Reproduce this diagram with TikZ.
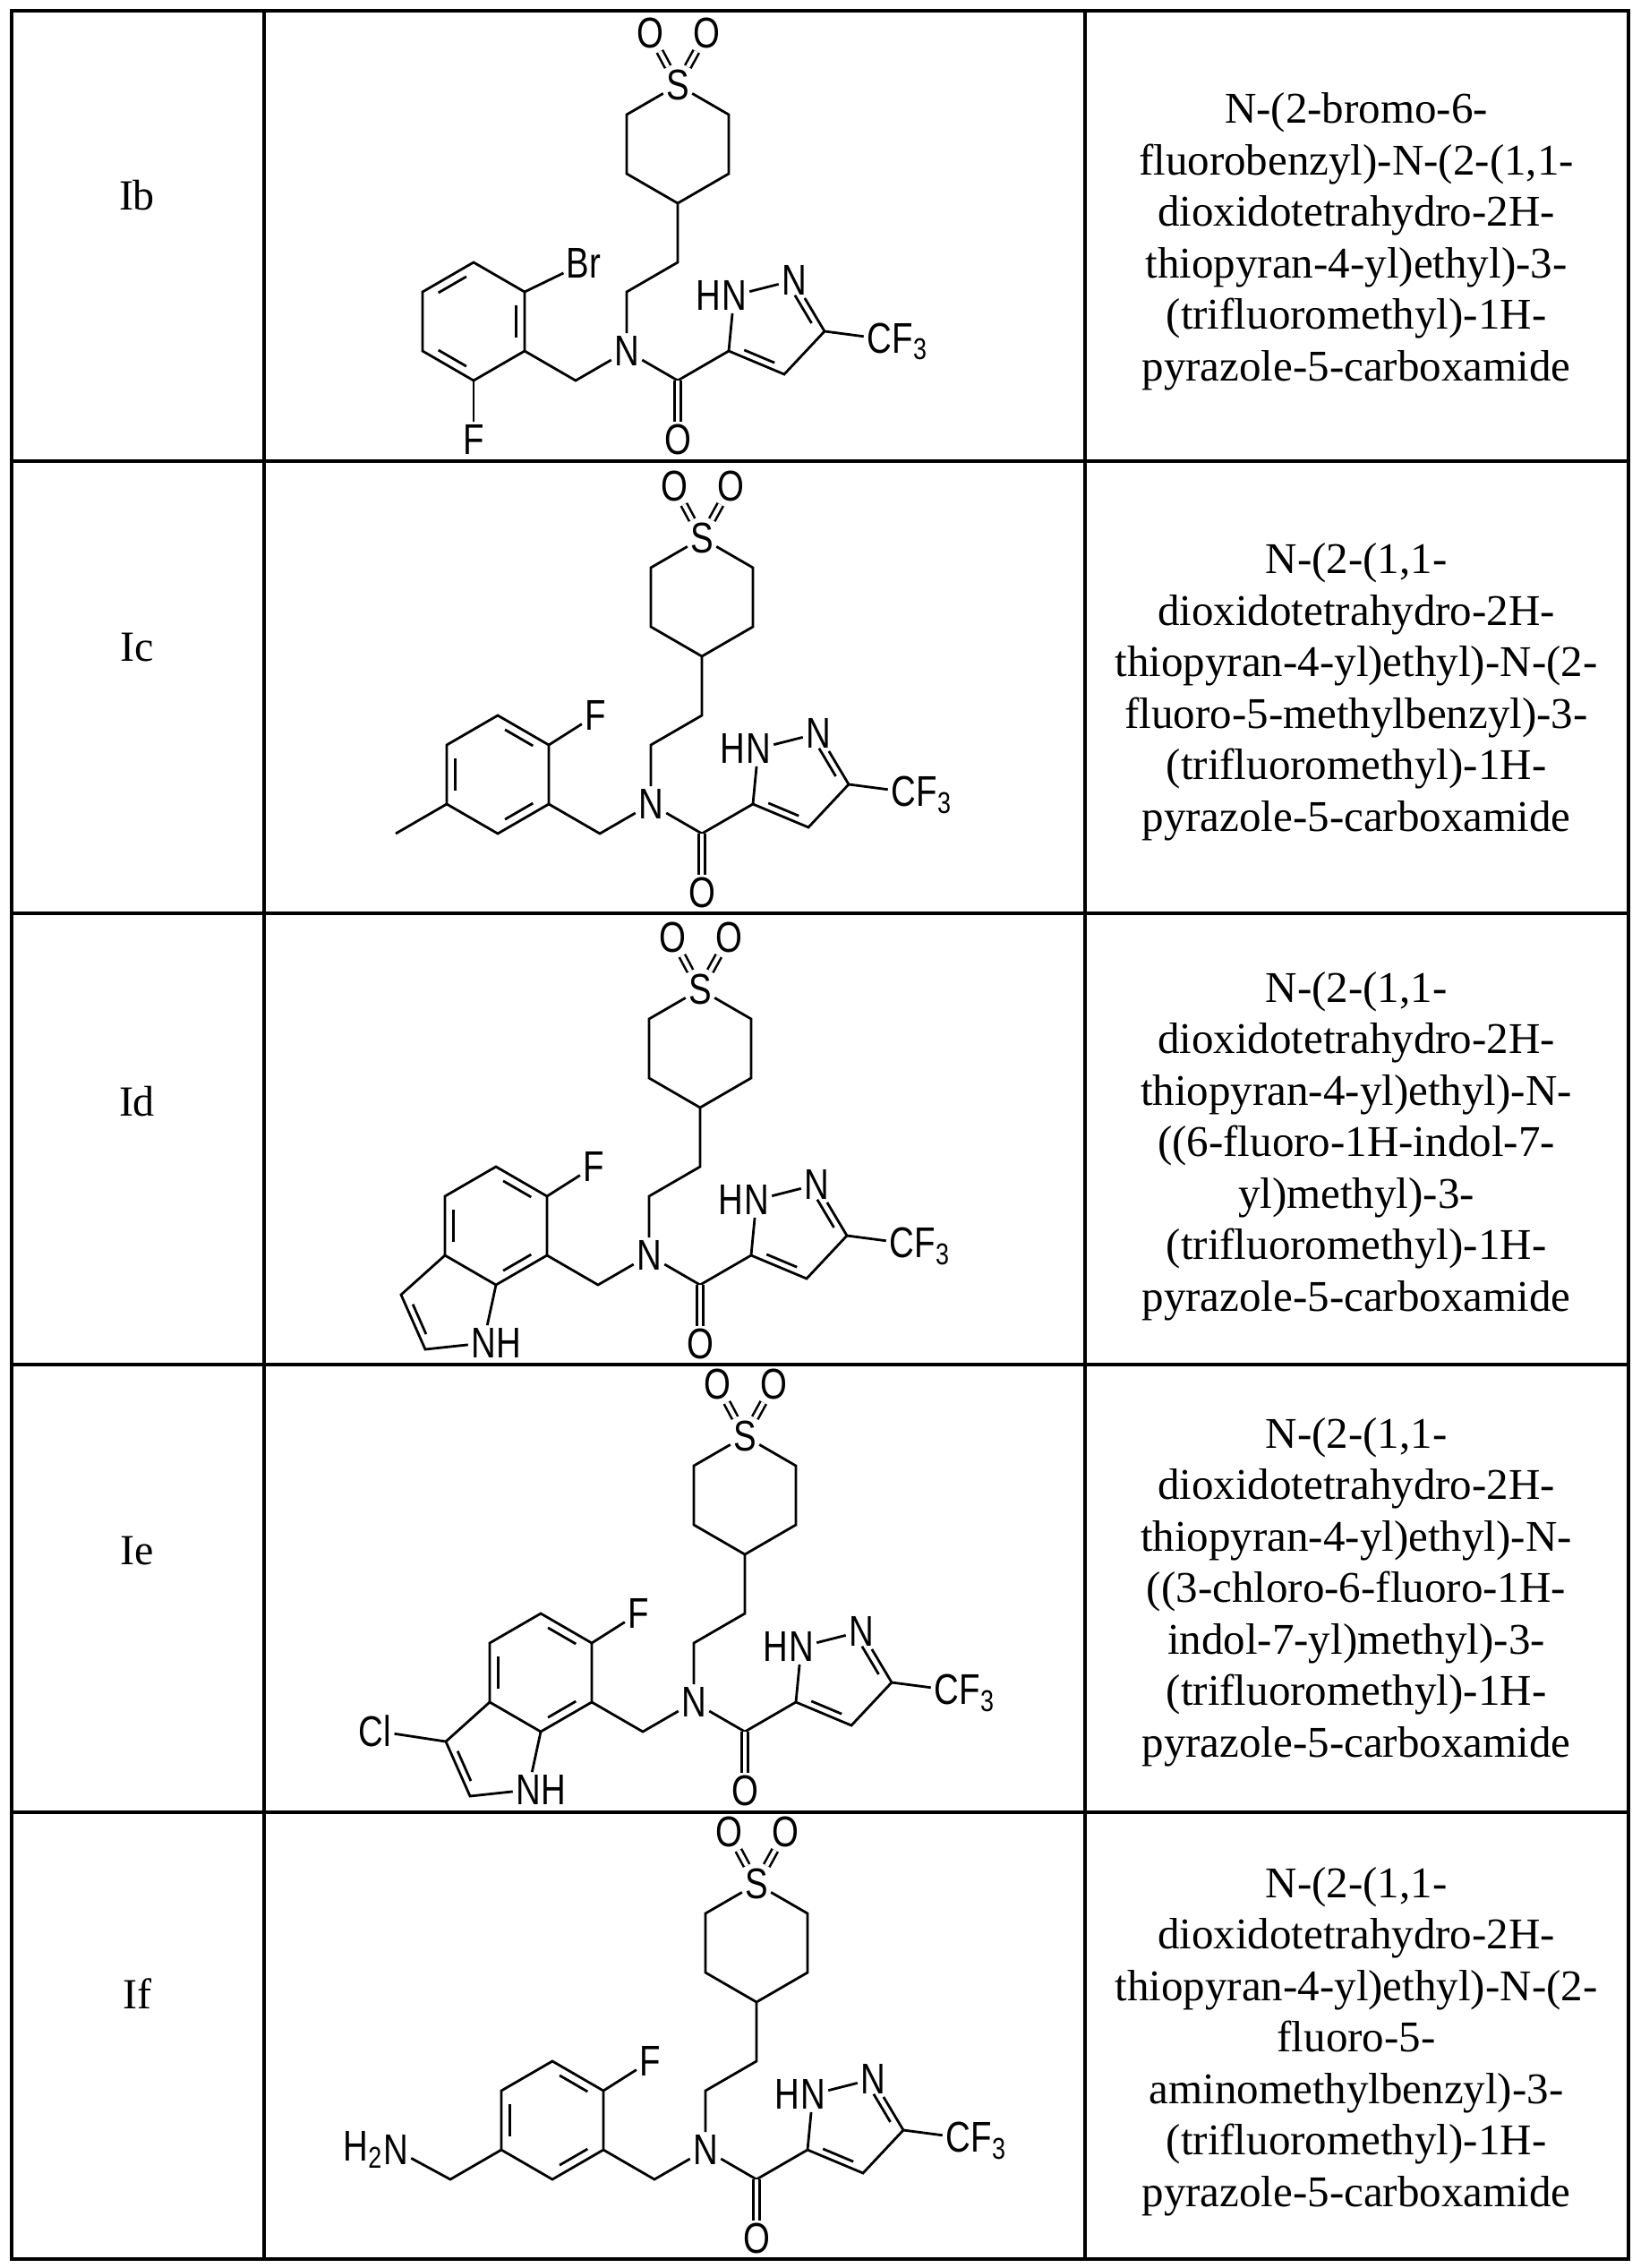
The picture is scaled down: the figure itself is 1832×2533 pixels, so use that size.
\documentclass[tikz,border=0pt]{standalone}
\usepackage{fontspec}
\setmainfont{Liberation Serif}
\newfontfamily\atomfont[FakeStretch=0.8]{Liberation Sans}
\usetikzlibrary{calc}
\tikzset{
  atom/.style={inner sep=1.5pt,font=\atomfont\fontsize{24}{26}\selectfont},
  bond/.style={line width=1.4pt},
  dbond/.style={double,double distance=2.2pt,line width=1.3pt},
  grid/.style={line width=1.6pt},
  cname/.style={align=center,font=\fontsize{24.5}{28.75}\selectfont},
  rlabel/.style={font=\fontsize{24}{26}\selectfont}
}
\newcommand\innerbond[3]{\draw[bond] ($($(#1)!.17!(#2)$)!.17!(#3)$) -- ($($(#2)!.17!(#1)$)!.17!(#3)$);}
% common core: #1 prefix, #2,#3 position of amide N
\newcommand\drawcore[3]{%
\begin{scope}[shift={(#2,#3)}]
\node[atom] (#1N) at (0,0) {N};
\coordinate (#1a) at (0,-66);
\coordinate (#1b) at (57,-99);
\coordinate (#1r1) at (57,-165);
\coordinate (#1r2) at (0,-198);
\coordinate (#1r3) at (0,-264);
\node[atom] (#1S) at (57,-297) {S};
\coordinate (#1r5) at (114,-264);
\coordinate (#1r6) at (114,-198);
\node[atom] (#1O1) at (26,-355) {O};
\node[atom] (#1O2) at (89,-355) {O};
\coordinate (#1m) at (-57,33);
\coordinate (#1A1) at (-114,0);
\coordinate (#1c) at (57,33);
\node[atom] (#1O3) at (57,99) {O};
\coordinate (#1p5) at (114,0);
\node[atom] (#1N1) at (120,-62) {N};
\node[atom,anchor=east,inner sep=0pt] (#1H1) at ([xshift=1.5pt]#1N1.west) {H};
\node[atom] (#1N2) at (187,-79) {N};
\coordinate (#1p3) at (221,-22);
\coordinate (#1p4) at (176,26);
\coordinate (#1pc) at (164,-28);
\node[atom] (#1CF) at (282,-14) {C};
\node[atom,anchor=base west,inner sep=0pt] (#1F3) at ([xshift=-1.5pt]#1CF.base east) {F\textsubscript{3}};
\coordinate (#1A2) at (-114,-66);
\coordinate (#1A3) at (-171,-99);
\coordinate (#1A4) at (-228,-66);
\coordinate (#1A5) at (-228,0);
\coordinate (#1A6) at (-171,33);
\coordinate (#1Ac) at (-171,-33);
\end{scope}
\draw[bond] (#1N) -- (#1a) -- (#1b) -- (#1r1) -- (#1r2) -- (#1r3) -- (#1S) -- (#1r5) -- (#1r6) -- (#1r1);
\draw[dbond] (#1S) -- (#1O1);
\draw[dbond] (#1S) -- (#1O2);
\draw[bond] (#1N) -- (#1m) -- (#1A1);
\draw[bond] (#1N) -- (#1c) -- (#1p5);
\draw[dbond] (#1c) -- (#1O3);
\draw[bond] (#1p5) -- (#1N1);
\draw[bond] (#1N1) -- (#1N2);
\draw[bond] (#1N2) -- (#1p3) -- (#1p4) -- (#1p5);
\innerbond{#1p3}{#1N2}{#1pc}
\innerbond{#1p4}{#1p5}{#1pc}
\draw[bond] (#1p3) -- (#1CF);
\draw[bond] (#1A1) -- (#1A2) -- (#1A3) -- (#1A4) -- (#1A5) -- (#1A6) -- (#1A1);
}
\begin{document}
\begin{tikzpicture}[x=0.5pt,y=-0.5pt]
\useasboundingbox (0,0) rectangle (1832,2533);
% table
\draw[grid] (13,12) rectangle (1819,2523);
\foreach \yy in {515,1020,1524,2024} \draw[grid] (13,\yy) -- (1819,\yy);
\draw[grid] (295,12) -- (295,2523);
\draw[grid] (1212,12) -- (1212,2523);
% row labels
\node[rlabel] (lb) at (153,218) {Ib};
\node[rlabel] (lc) at (153,723) {Ic};
\node[rlabel] (ld) at (153,1230) {Id};
\node[rlabel] (le) at (153,1732) {Ie};
\node[rlabel] (lf) at (153,2227) {If};
% names
\node[cname] (nb) at (1515,270) {N-(2-bromo-6-\\fluorobenzyl)-N-(2-(1,1-\\dioxidotetrahydro-2H-\\thiopyran-4-yl)ethyl)-3-\\(trifluoromethyl)-1H-\\pyrazole-5-carboxamide};
\node[cname] (nc) at (1515,773) {N-(2-(1,1-\\dioxidotetrahydro-2H-\\thiopyran-4-yl)ethyl)-N-(2-\\fluoro-5-methylbenzyl)-3-\\(trifluoromethyl)-1H-\\pyrazole-5-carboxamide};
\node[cname] (nd) at (1515,1280) {N-(2-(1,1-\\dioxidotetrahydro-2H-\\thiopyran-4-yl)ethyl)-N-\\((6-fluoro-1H-indol-7-\\yl)methyl)-3-\\(trifluoromethyl)-1H-\\pyrazole-5-carboxamide};
\node[cname] (ne) at (1515,1778) {N-(2-(1,1-\\dioxidotetrahydro-2H-\\thiopyran-4-yl)ethyl)-N-\\((3-chloro-6-fluoro-1H-\\indol-7-yl)methyl)-3-\\(trifluoromethyl)-1H-\\pyrazole-5-carboxamide};
\node[cname] (nf) at (1515,2280) {N-(2-(1,1-\\dioxidotetrahydro-2H-\\thiopyran-4-yl)ethyl)-N-(2-\\fluoro-5-\\aminomethylbenzyl)-3-\\(trifluoromethyl)-1H-\\pyrazole-5-carboxamide};
% ---- Ib
\drawcore{b}{700}{392}
\innerbond{bA3}{bA4}{bAc}
\innerbond{bA1}{bA2}{bAc}
\innerbond{bA5}{bA6}{bAc}
\node[atom] (bBr) at ($(bA2)+(66,-32)$) {Br};
\node[atom] (bF) at ($(bA6)+(0,66)$) {F};
\draw[bond] (bA2) -- (bBr);
\draw[bond] (bA6) -- (bF);
% ---- Ic
\drawcore{c}{727}{898}
\innerbond{cA2}{cA3}{cAc}
\innerbond{cA4}{cA5}{cAc}
\innerbond{cA6}{cA1}{cAc}
\node[atom] (cF) at ($(cA2)+(52,-33)$) {F};
\draw[bond] (cA2) -- (cF);
\coordinate (cMe) at ($(cA5)+(-57,33)$);
\draw[bond] (cA5) -- (cMe);
% ---- Id
\drawcore{d}{725}{1402}
\innerbond{dA2}{dA3}{dAc}
\innerbond{dA4}{dA5}{dAc}
\innerbond{dA6}{dA1}{dAc}
\node[atom] (dF) at ($(dA2)+(52,-33)$) {F};
\draw[bond] (dA2) -- (dF);
\node[atom] (dPN) at ($(dA1)+(-71,98)$) {N};
\node[atom,anchor=west,inner sep=0pt] (dPH) at ([xshift=-1.5pt]dPN.east) {H};
\coordinate (dP2) at ($(dA1)+(-136,105)$);
\coordinate (dP3) at ($(dA1)+(-163,44)$);
\coordinate (dPc) at ($(dA1)+(-108,56)$);
\draw[bond] (dA6) -- (dPN) -- (dP2) -- (dP3) -- (dA5);
\innerbond{dP2}{dP3}{dPc}
% ---- Ie
\drawcore{e}{775}{1901}
\innerbond{eA2}{eA3}{eAc}
\innerbond{eA4}{eA5}{eAc}
\innerbond{eA6}{eA1}{eAc}
\node[atom] (eF) at ($(eA2)+(52,-33)$) {F};
\draw[bond] (eA2) -- (eF);
\node[atom] (ePN) at ($(eA1)+(-71,98)$) {N};
\node[atom,anchor=west,inner sep=0pt] (ePH) at ([xshift=-1.5pt]ePN.east) {H};
\coordinate (eP2) at ($(eA1)+(-136,105)$);
\coordinate (eP3) at ($(eA1)+(-163,44)$);
\coordinate (ePc) at ($(eA1)+(-108,56)$);
\draw[bond] (eA6) -- (ePN) -- (eP2) -- (eP3) -- (eA5);
\innerbond{eP2}{eP3}{ePc}
\node[atom] (eCl) at ($(eA1)+(-242,32)$) {Cl};
\draw[bond] (eP3) -- (eCl);
% ---- If
\drawcore{f}{788}{2401}
\innerbond{fA2}{fA3}{fAc}
\innerbond{fA4}{fA5}{fAc}
\innerbond{fA6}{fA1}{fAc}
\node[atom] (fF) at ($(fA2)+(52,-33)$) {F};
\draw[bond] (fA2) -- (fF);
\coordinate (fCH) at ($(fA5)+(-57,33)$);
\node[atom] (fNA) at ($(fA1)+(-232,0)$) {N};
\node[atom,anchor=east,inner sep=0pt] (fH2) at ([xshift=1.5pt]fNA.west) {H\textsubscript{2}};
\draw[bond] (fA5) -- (fCH) -- (fNA);
\end{tikzpicture}
\end{document}
